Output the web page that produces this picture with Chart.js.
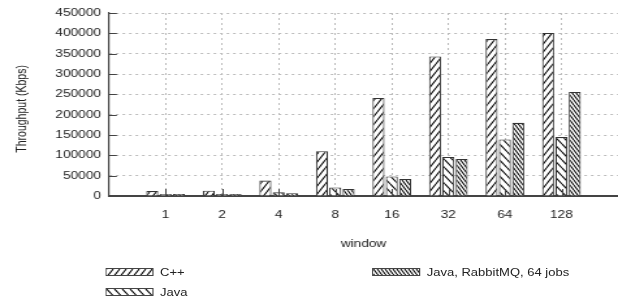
<!DOCTYPE html>
<html>
<head>
<meta charset="utf-8">
<script src="https://cdn.jsdelivr.net/npm/chart.js@4.4.0/dist/chart.umd.min.js"></script>
<style>
  body { margin: 0; background: #fff; }
  #wrap { position: relative; width: 475px; height: 304px; transform: scaleX(1.30105); transform-origin: 0 0; }
  #c { position: absolute; left: 0; top: 0; }
  .lg { position: absolute; font: 10px "Liberation Sans", Arial, sans-serif; color: #222; line-height: 12px; }
  .sw { position: absolute; width: 35px; height: 6px; border: 1px solid #444; }
</style>
</head>
<body>
<div id="wrap">
  <canvas id="c" width="475" height="304" style="width:475px;height:304px"></canvas>
  <canvas class="sw" id="sw0" width="35" height="6" style="left:81px;top:268px"></canvas>
  <div class="lg" style="left:123px;top:267px">C++</div>
  <canvas class="sw" id="sw1" width="35" height="6" style="left:81px;top:288px"></canvas>
  <div class="lg" style="left:123px;top:287px">Java</div>
  <canvas class="sw" id="sw2" width="35" height="6" style="left:286px;top:268px"></canvas>
  <div class="lg" style="left:328px;top:267px">Java, RabbitMQ, 64 jobs</div>
</div>
<script>
// window sizes on the x axis
var windows = ['1', '2', '4', '8', '16', '32', '64', '128']
var seriesNames = ['C++', 'Java', 'Java, RabbitMQ, 64 jobs']
// throughput in Kbps
var cpp = [12000, 13000, 38000, 110000, 241000, 343000, 386000, 401000]
var java = [5000, 5000, 9000, 21000, 48000, 96000, 139000, 145000]
var rabbit = [5000, 5000, 7000, 17000, 42000, 91000, 180000, 256000]
var yTicks = [0, 50000, 100000, 150000, 200000, 250000, 300000, 350000, 400000, 450000]

// empty slot at each end, like the original plot
var labels = [''].concat(windows, [''])
function pad(arr) { return [null].concat(arr, [null]) }

// hatch tile: white with diagonal lines
function mk(w, h, dir) {
  var t = document.createElement('canvas')
  t.width = w; t.height = h
  var g = t.getContext('2d')
  g.fillStyle = '#fff'
  g.fillRect(0, 0, w, h)
  g.strokeStyle = '#000'
  g.lineWidth = 1.05
  g.beginPath()
  for (var k = -1; k <= 1; k++) {
    if (dir == '/') { g.moveTo(k * w, h); g.lineTo(k * w + w, 0) }
    else { g.moveTo(k * w, 0); g.lineTo(k * w + w, h) }
  }
  g.stroke()
  return t
}
var ctx0 = document.getElementById('c').getContext('2d')
var tiles = [mk(5, 8, '/'), mk(6, 8, '\\'), mk(3, 5, '\\')]
var fills = tiles.map(function (t) { return ctx0.createPattern(t, 'repeat') })

// legend swatches
for (var i = 0; i < 3; i++) {
  var sc = document.getElementById('sw' + i).getContext('2d')
  sc.fillStyle = sc.createPattern(tiles[i], 'repeat')
  sc.fillRect(0, 0, 35, 6)
}

// gnuplot style ticks pointing into the plot
var inwardTicks = {
  id: 'inwardTicks',
  afterDatasetsDraw: function (chart) {
    var c = chart.ctx, a = chart.chartArea
    var ys = chart.scales.y, xs = chart.scales.x
    c.save()
    c.strokeStyle = '#444'
    c.lineWidth = 1
    c.beginPath()
    yTicks.forEach(function (v) {
      var p = Math.round(ys.getPixelForValue(v)) + 0.5
      c.moveTo(a.left, p); c.lineTo(a.left + 6, p)
    })
    windows.forEach(function (w, i) {
      var p = Math.round(xs.getPixelForValue(i + 1)) + 0.5
      c.moveTo(p, a.bottom); c.lineTo(p, a.bottom - 7)
    })
    c.stroke()
    c.restore()
  }
}

var font = { family: '"Liberation Sans", Arial, sans-serif', size: 10.5 }

new Chart(document.getElementById('c'), {
  type: 'bar',
  data: {
    labels: labels,
    datasets: [
      { label: seriesNames[0], data: pad(cpp), backgroundColor: fills[0] },
      { label: seriesNames[1], data: pad(java), backgroundColor: fills[1] },
      { label: seriesNames[2], data: pad(rabbit), backgroundColor: fills[2] }
    ].map(function (d) {
      d.borderColor = '#333'
      d.borderWidth = 1.1
      d.categoryPercentage = 0.707
      d.barPercentage = 0.9
      return d
    })
  },
  options: {
    responsive: false,
    animation: false,
    layout: { padding: { top: 13, right: 0, left: 0, bottom: 0 } },
    plugins: { legend: { display: false }, tooltip: { enabled: false } },
    scales: {
      x: {
        offset: false,
        afterFit: function (s) { s.height = 108 },
        grid: {
          offset: false,
          color: function (c) { return (c.index === 0 || c.index === labels.length - 1) ? 'rgba(0,0,0,0)' : '#bbb' },
          drawTicks: true, tickLength: 13, tickColor: 'rgba(0,0,0,0)'
        },
        border: { color: '#444', width: 2, dash: [2, 3] },
        ticks: { color: '#222', font: font, padding: 0, autoSkip: false, maxRotation: 0 },
        title: { display: true, text: 'window', color: '#222', font: font, padding: { top: 0, bottom: 53.7 } }
      },
      y: {
        min: 0,
        max: 450000,
        afterFit: function (s) { s.width = 83.8 },
        afterBuildTicks: function (s) { s.ticks = yTicks.map(function (v) { return { value: v } }) },
        grid: { color: '#bbb', drawTicks: false },
        border: { color: '#444', width: 1.2, dash: [2, 3] },
        ticks: { color: '#222', font: font, padding: 6.2, callback: function (v) { return String(v) } },
        title: { display: true, text: 'Throughput (Kbps)   ', color: '#222', font: font, padding: { top: 10.6, bottom: 0 } }
      }
    }
  },
  plugins: [inwardTicks]
})
</script>
</body>
</html>
